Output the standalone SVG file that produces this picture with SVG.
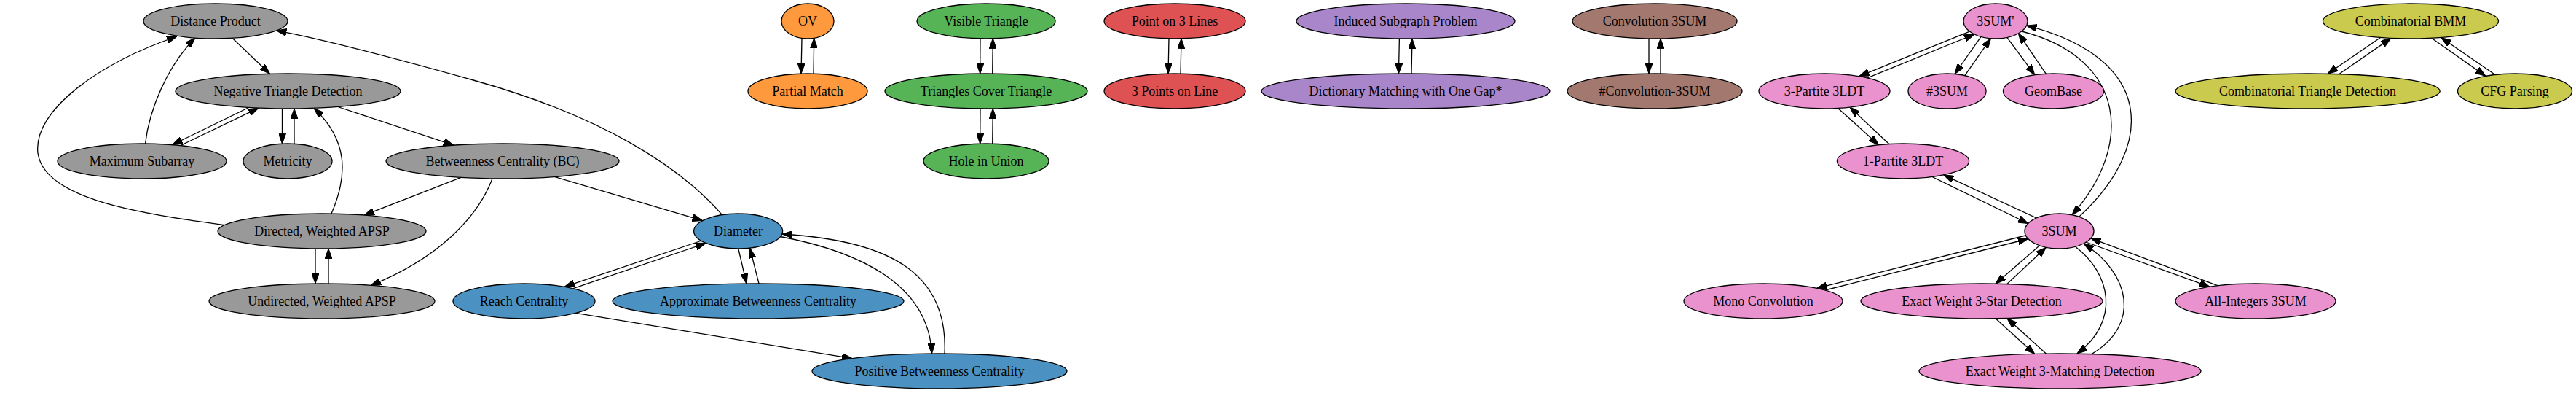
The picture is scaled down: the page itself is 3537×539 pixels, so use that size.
<svg xmlns="http://www.w3.org/2000/svg" width="3537" height="539" viewBox="0 0 3537 539">
<style>
.n ellipse{stroke:#000;stroke-width:1.3}
.n text{font-family:"Liberation Serif","Times New Roman",serif;font-size:18px;fill:#000;text-anchor:middle}
.gray ellipse{fill:#999999}
.blue ellipse{fill:#4b92c3}
.orange ellipse{fill:#ff993e}
.green ellipse{fill:#56b356}
.red ellipse{fill:#de5253}
.purple ellipse{fill:#a985ca}
.brown ellipse{fill:#a3786f}
.pink ellipse{fill:#e992ce}
.olive ellipse{fill:#c9ca4e}
#edges path{fill:none;stroke:#000;stroke-width:1.3;marker-end:url(#ah)}
</style>
<defs>
<marker id="ah" viewBox="0 0 14 10" refX="14" refY="5" markerUnits="userSpaceOnUse" markerWidth="14" markerHeight="10" orient="auto">
<path d="M0,0 L14,5 L0,10 z" fill="#000" stroke="#000" stroke-width="1"/>
</marker>
</defs>
<rect width="3537" height="539" fill="#fff"/>
<g id="edges">
<path d="M319,52.3 L370.5,101.3"/>
<path d="M199.5,197 C205,150 230,90 268,52"/>
<path d="M308,308.6 C180,292 60,270 52,210 C45,150 140,85 243,50"/>
<path d="M991.5,294.6 C935,230 830,160 650,110 C550,82 450,55 379.5,41.9"/>
<path d="M341.5,147.5 L236.6,198.6"/>
<path d="M247.8,199.6 L355,148.2"/>
<path d="M387.5,149 L387.5,197.2"/>
<path d="M404,197.4 L404,149"/>
<path d="M464,146.5 L623,199.2"/>
<path d="M455,293 C478,240 478,192 431,148.4"/>
<path d="M633,243.4 L500,295.1"/>
<path d="M676,245 C655,300 600,355 509,391.4"/>
<path d="M761.6,242.5 L964.7,302.6"/>
<path d="M433,341 L433,389"/>
<path d="M451,389 L451,341"/>
<path d="M962,330.5 L775,393.3"/>
<path d="M787,395.7 L969.2,333.5"/>
<path d="M1013.8,341 L1025,389.1"/>
<path d="M1042,389 L1029.6,340.2"/>
<path d="M1071.5,324.5 C1180,345 1275,390 1279.5,485"/>
<path d="M1297,485 C1302,380 1230,330 1073.7,321"/>
<path d="M790.6,429.4 L1170,491.6"/>
<path d="M1101,52.4 L1100,101.1"/>
<path d="M1117,101.1 L1117.7,52.4"/>
<path d="M1346,52.8 L1345.7,101"/>
<path d="M1362.7,101 L1363.3,52.8"/>
<path d="M1346,149 L1345.7,197.2"/>
<path d="M1362.7,197.2 L1363.3,149"/>
<path d="M1605,52.8 L1604,101"/>
<path d="M1621,101 L1622,52.8"/>
<path d="M1921.4,53 L1920.4,101"/>
<path d="M1938,101 L1939,53"/>
<path d="M2264,52.8 L2264,101"/>
<path d="M2280,101 L2280,52.8"/>
<path d="M2704.5,43.2 L2552.7,104.6"/>
<path d="M2564,106.9 L2711,47"/>
<path d="M2720,50.4 L2684,101.5"/>
<path d="M2697.8,103.6 L2733.5,52.7"/>
<path d="M2755.8,51.4 L2793.8,102.7"/>
<path d="M2809.4,101.3 L2771.4,45.8"/>
<path d="M2523.7,148.5 L2579.5,198.7"/>
<path d="M2593.75,197.55 L2540,147.1"/>
<path d="M2653,242.5 L2784.8,306.5"/>
<path d="M2796,299 L2668.75,239.9"/>
<path d="M2776,43 C2920,80 2930,200 2845,294.7"/>
<path d="M2855,297 C2960,200 2960,80 2782.5,35"/>
<path d="M2781,323 L2494.6,395.3"/>
<path d="M2506,398 L2784.8,327.5"/>
<path d="M2800.4,336.7 L2740,389.2"/>
<path d="M2755.8,389.5 L2809.4,339.2"/>
<path d="M2740,436.8 L2793.75,485.4"/>
<path d="M2809.4,485.1 L2755.8,436.5"/>
<path d="M2849.5,338.3 C2898,375 2912,440 2851.8,485.2"/>
<path d="M2872,485.6 C2940,445 2925,375 2861,334"/>
<path d="M2864,332 L3034,393.3"/>
<path d="M3045.5,391.8 L2870.5,326.6"/>
<path d="M3268.5,51.5 L3196,101.3"/>
<path d="M3211.5,101.7 L3283,52.4"/>
<path d="M3338.6,52.3 L3413,104.35"/>
<path d="M3426,102.5 L3351.7,51.5"/>
</g>
<g id="n_dp" class="n gray"><ellipse cx="296" cy="29" rx="99" ry="24"/><text x="296" y="35">Distance Product</text></g>
<g id="n_ntd" class="n gray"><ellipse cx="395.5" cy="125" rx="154.5" ry="24"/><text x="395.5" y="131">Negative Triangle Detection</text></g>
<g id="n_ms" class="n gray"><ellipse cx="195" cy="221" rx="116" ry="24"/><text x="195" y="227">Maximum Subarray</text></g>
<g id="n_met" class="n gray"><ellipse cx="395" cy="221" rx="61" ry="24"/><text x="395" y="227">Metricity</text></g>
<g id="n_bc" class="n gray"><ellipse cx="690" cy="221" rx="160" ry="24"/><text x="690" y="227">Betweenness Centrality (BC)</text></g>
<g id="n_dwapsp" class="n gray"><ellipse cx="442" cy="317" rx="143" ry="24"/><text x="442" y="323">Directed, Weighted APSP</text></g>
<g id="n_uwapsp" class="n gray"><ellipse cx="442" cy="413" rx="155" ry="24"/><text x="442" y="419">Undirected, Weighted APSP</text></g>
<g id="n_diam" class="n blue"><ellipse cx="1013.6" cy="317" rx="61" ry="24"/><text x="1013.6" y="323">Diameter</text></g>
<g id="n_rc" class="n blue"><ellipse cx="719.5" cy="413" rx="97.5" ry="24"/><text x="719.5" y="419">Reach Centrality</text></g>
<g id="n_abc" class="n blue"><ellipse cx="1041" cy="413" rx="200" ry="24"/><text x="1041" y="419">Approximate Betweenness Centrality</text></g>
<g id="n_pbc" class="n blue"><ellipse cx="1290" cy="509" rx="175" ry="24"/><text x="1290" y="515">Positive Betweenness Centrality</text></g>
<g id="n_ov" class="n orange"><ellipse cx="1109" cy="29" rx="36" ry="24"/><text x="1109" y="35">OV</text></g>
<g id="n_pm" class="n orange"><ellipse cx="1109" cy="125" rx="82" ry="24"/><text x="1109" y="131">Partial Match</text></g>
<g id="n_vt" class="n green"><ellipse cx="1354" cy="29" rx="95" ry="24"/><text x="1354" y="35">Visible Triangle</text></g>
<g id="n_tct" class="n green"><ellipse cx="1354" cy="125" rx="139" ry="24"/><text x="1354" y="131">Triangles Cover Triangle</text></g>
<g id="n_hu" class="n green"><ellipse cx="1354" cy="221" rx="86" ry="24"/><text x="1354" y="227">Hole in Union</text></g>
<g id="n_p3l" class="n red"><ellipse cx="1613" cy="29" rx="97" ry="24"/><text x="1613" y="35">Point on 3 Lines</text></g>
<g id="n_3pl" class="n red"><ellipse cx="1613" cy="125" rx="97" ry="24"/><text x="1613" y="131">3 Points on Line</text></g>
<g id="n_isp" class="n purple"><ellipse cx="1930" cy="29" rx="150" ry="24"/><text x="1930" y="35">Induced Subgraph Problem</text></g>
<g id="n_dmog" class="n purple"><ellipse cx="1930" cy="125" rx="198" ry="24"/><text x="1930" y="131">Dictionary Matching with One Gap*</text></g>
<g id="n_c3" class="n brown"><ellipse cx="2272" cy="29" rx="113" ry="24"/><text x="2272" y="35">Convolution 3SUM</text></g>
<g id="n_hc3" class="n brown"><ellipse cx="2272" cy="125" rx="120" ry="24"/><text x="2272" y="131">#Convolution-3SUM</text></g>
<g id="n_3sump" class="n pink"><ellipse cx="2740" cy="29" rx="44" ry="24"/><text x="2740" y="35">3SUM'</text></g>
<g id="n_3p3ldt" class="n pink"><ellipse cx="2505" cy="125" rx="90" ry="24"/><text x="2505" y="131">3-Partite 3LDT</text></g>
<g id="n_h3sum" class="n pink"><ellipse cx="2673.5" cy="125" rx="53.5" ry="24"/><text x="2673.5" y="131">#3SUM</text></g>
<g id="n_gb" class="n pink"><ellipse cx="2819.5" cy="125" rx="69" ry="24"/><text x="2819.5" y="131">GeomBase</text></g>
<g id="n_1p3ldt" class="n pink"><ellipse cx="2613" cy="221" rx="90.6" ry="24"/><text x="2613" y="227">1-Partite 3LDT</text></g>
<g id="n_3sum" class="n pink"><ellipse cx="2827.5" cy="317" rx="47.5" ry="24"/><text x="2827.5" y="323">3SUM</text></g>
<g id="n_mc" class="n pink"><ellipse cx="2421" cy="413" rx="109" ry="24"/><text x="2421" y="419">Mono Convolution</text></g>
<g id="n_ew3s" class="n pink"><ellipse cx="2721" cy="413" rx="166" ry="24"/><text x="2721" y="419">Exact Weight 3-Star Detection</text></g>
<g id="n_ai3sum" class="n pink"><ellipse cx="3097" cy="413" rx="110" ry="24"/><text x="3097" y="419">All-Integers 3SUM</text></g>
<g id="n_ew3m" class="n pink"><ellipse cx="2828.5" cy="509" rx="193.5" ry="24"/><text x="2828.5" y="515">Exact Weight 3-Matching Detection</text></g>
<g id="n_bmm" class="n olive"><ellipse cx="3310" cy="29" rx="120.5" ry="24"/><text x="3310" y="35">Combinatorial BMM</text></g>
<g id="n_ctd" class="n olive"><ellipse cx="3168.6" cy="125" rx="181.6" ry="24"/><text x="3168.6" y="131">Combinatorial Triangle Detection</text></g>
<g id="n_cfg" class="n olive"><ellipse cx="3453" cy="125" rx="78.5" ry="24"/><text x="3453" y="131">CFG Parsing</text></g>
</svg>
